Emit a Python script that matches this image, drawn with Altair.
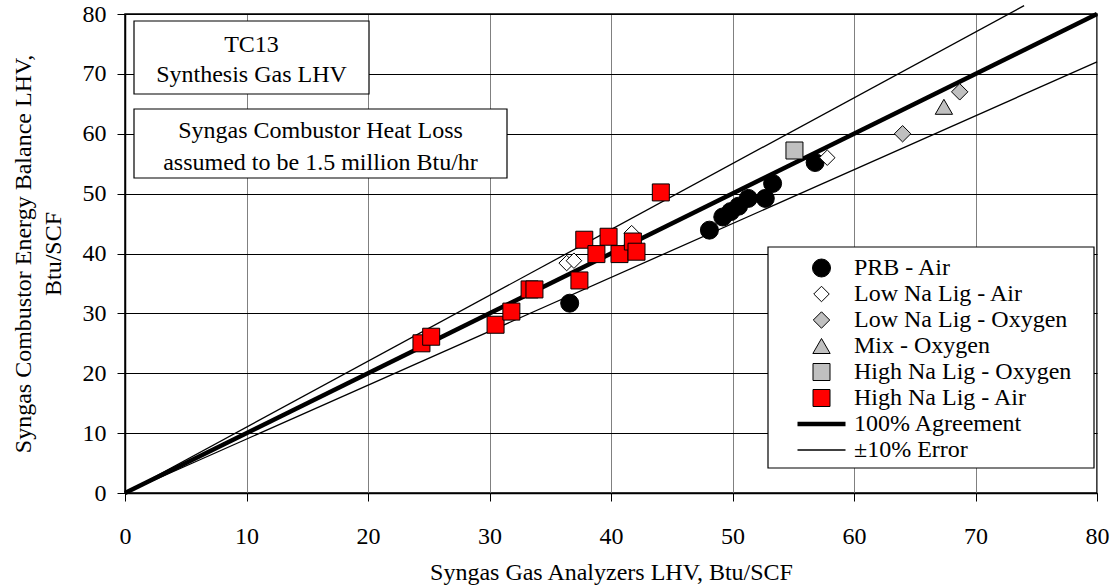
import altair as alt
import pandas as pd

FONT = "Liberation Serif"

# ---- series definitions ----
series = ["PRB - Air", "Low Na Lig - Air", "Low Na Lig - Oxygen", "Mix - Oxygen",
          "High Na Lig - Oxygen", "High Na Lig - Air", "100% Agreement", "±10% Error"]
shapes = ["circle", "diamond", "diamond", "triangle-up", "square", "square", "stroke", "stroke"]
fills = ["#000000", "#ffffff", "#c0c0c0", "#c0c0c0", "#c0c0c0", "#ff0000", "#000000", "#000000"]
strokes = ["#000000"] * 8
sizes = [324, 240, 270, 300, 289, 289, 2304, 2304]
widths = [1, 1, 1, 1, 1, 1, 4.5, 1.3]

# ---- data ----
prb_x = [36.6, 48.1, 49.2, 49.85, 50.5, 51.3, 52.7, 53.3, 56.8]
prb_y = [31.7, 43.9, 46.1, 47.0, 47.9, 49.2, 49.2, 51.7, 55.2]

lowna_air_x = [36.35, 36.95, 41.7, 57.8]
lowna_air_y = [38.4, 38.8, 43.4, 56.0]

lowna_oxy_x = [64.0, 68.7]
lowna_oxy_y = [60.0, 67.0]

mix_oxy_x = [67.4]
mix_oxy_y = [64.5]

highna_oxy_x = [55.1]
highna_oxy_y = [57.2]

highna_air_x = [24.4, 25.2, 30.5, 31.8, 33.3, 33.7, 37.4, 37.8, 38.8, 39.8, 40.7, 41.8, 42.1, 44.1]
highna_air_y = [25.0, 26.1, 28.1, 30.3, 34.0, 34.0, 35.5, 42.3, 39.9, 42.8, 39.9, 42.0, 40.3, 50.2]

# reference lines
agree_x = [0, 80]
agree_y = [0, 80]
upper_x = [0, 74]
upper_y = [0, 81.4]
lower_x = [0, 80]
lower_y = [0, 72]

ticks = [0, 10, 20, 30, 40, 50, 60, 70, 80]

# ---- tables ----
pts = []
for name, xs, ys in [
    ("PRB - Air", prb_x, prb_y),
    ("Low Na Lig - Air", lowna_air_x, lowna_air_y),
    ("Low Na Lig - Oxygen", lowna_oxy_x, lowna_oxy_y),
    ("Mix - Oxygen", mix_oxy_x, mix_oxy_y),
    ("High Na Lig - Oxygen", highna_oxy_x, highna_oxy_y),
    ("High Na Lig - Air", highna_air_x, highna_air_y),
]:
    for a, b in zip(xs, ys):
        pts.append({"x": a, "y": b, "series": name, "order": len(pts)})
pts_df = pd.DataFrame(pts)

agree_df = pd.DataFrame({"x": agree_x, "y": agree_y})
err_df = pd.DataFrame({
    "x": upper_x + lower_x,
    "y": upper_y + lower_y,
    "which": ["upper"] * len(upper_x) + ["lower"] * len(lower_x),
})

xscale = alt.Scale(domain=[0, 80], nice=False, zero=False)
yscale = alt.Scale(domain=[0, 80], nice=False, zero=False)

xaxis = alt.Axis(
    values=ticks, tickSize=8, labelPadding=23, labelFont=FONT, labelFontSize=24,
    labelColor="black", tickColor="black", domainColor="black", domainWidth=1.5,
    gridColor="#808080", gridWidth=1, labelFlush=False, labelOverlap=False,
    title="Syngas Gas Analyzers LHV, Btu/SCF", titleFont=FONT, titleFontSize=24,
    titleFontWeight="normal", titleColor="black", titleBaseline="alphabetic", titleY=86,
)
yaxis = alt.Axis(
    values=ticks, tickSize=8, labelPadding=11, labelFont=FONT, labelFontSize=24,
    labelColor="black", tickColor="black", domainColor="black", domainWidth=1.5,
    gridColor="#000000", gridWidth=1, labelOverlap=False, labelFlush=False,
    title=["Syngas Combustor Energy Balance LHV,", "Btu/SCF"], titleFont=FONT,
    titleFontSize=24, titleFontWeight="normal", titleColor="black",
    titleBaseline="alphabetic", titleX=-95, titleY=239.5, titleLineHeight=30,
    titleAlign="center", titleAngle=270,
)

X = alt.X("x:Q", scale=xscale, axis=xaxis)
Y = alt.Y("y:Q", scale=yscale, axis=yaxis)

legend = alt.Legend(
    orient="none", legendX=670, legendY=242, title=None, padding=0,
    labelFont=FONT, labelFontSize=24, labelColor="black", labelLimit=400,
    labelOffset=6, symbolStrokeColor="black", clipHeight=24, rowPadding=2,
    strokeColor="transparent", symbolOpacity=1,
)

one = pd.DataFrame({"a": [0]})


def box(x1, x2, y1, y2):
    return alt.Chart(one).mark_rect(fill="white", stroke="black", strokeWidth=1.2).encode(
        x=alt.value(x1), x2=alt.value(x2), y=alt.value(y1), y2=alt.value(y2))


def label(txt, xc, yb):
    return alt.Chart(one).mark_text(
        font=FONT, fontSize=24, color="black", align="center", baseline="alphabetic"
    ).encode(x=alt.value(xc), y=alt.value(yb), text=alt.value(txt))


box1 = box(9, 244, 7, 80)
box2 = box(9, 382, 95, 164)
legbox = box(643, 969, 233, 454)

t1 = label("TC13", 126.5, 38)
t2 = label("Synthesis Gas LHV", 126.5, 68)
t3 = label("Syngas Combustor Heat Loss", 195.5, 124)
t4 = label("assumed to be 1.5 million Btu/hr", 195.5, 156)

agree = alt.Chart(agree_df).mark_line(color="black", strokeWidth=4.5, clip=False).encode(x=X, y=Y)
err = alt.Chart(err_df).mark_line(color="black", strokeWidth=1.3, clip=False).encode(
    x=X, y=Y, detail="which:N")

points = alt.Chart(pts_df).mark_point(filled=True, opacity=1).encode(
    x=X, y=Y,
    shape=alt.Shape("series:N", scale=alt.Scale(domain=series, range=shapes), legend=legend),
    fill=alt.Fill("series:N", scale=alt.Scale(domain=series, range=fills), legend=legend),
    stroke=alt.Stroke("series:N", scale=alt.Scale(domain=series, range=strokes), legend=legend),
    size=alt.Size("series:N", scale=alt.Scale(type="ordinal", domain=series, range=sizes), legend=legend),
    strokeWidth=alt.StrokeWidth("series:N", scale=alt.Scale(type="ordinal", domain=series, range=widths), legend=legend),
    order=alt.Order("order:Q"),
)

chart = alt.layer(
    box1, box2, legbox, err, agree, points, t1, t2, t3, t4
).properties(
    width=972, height=479,
    padding={"left": 125, "top": 14, "right": 18, "bottom": 94},
    autosize=alt.AutoSizeParams(type="none"),
    background="white",
).configure_view(stroke="black", strokeWidth=1.5)

chart.save("out.html", embed_options={"renderer": "svg", "actions": False})
